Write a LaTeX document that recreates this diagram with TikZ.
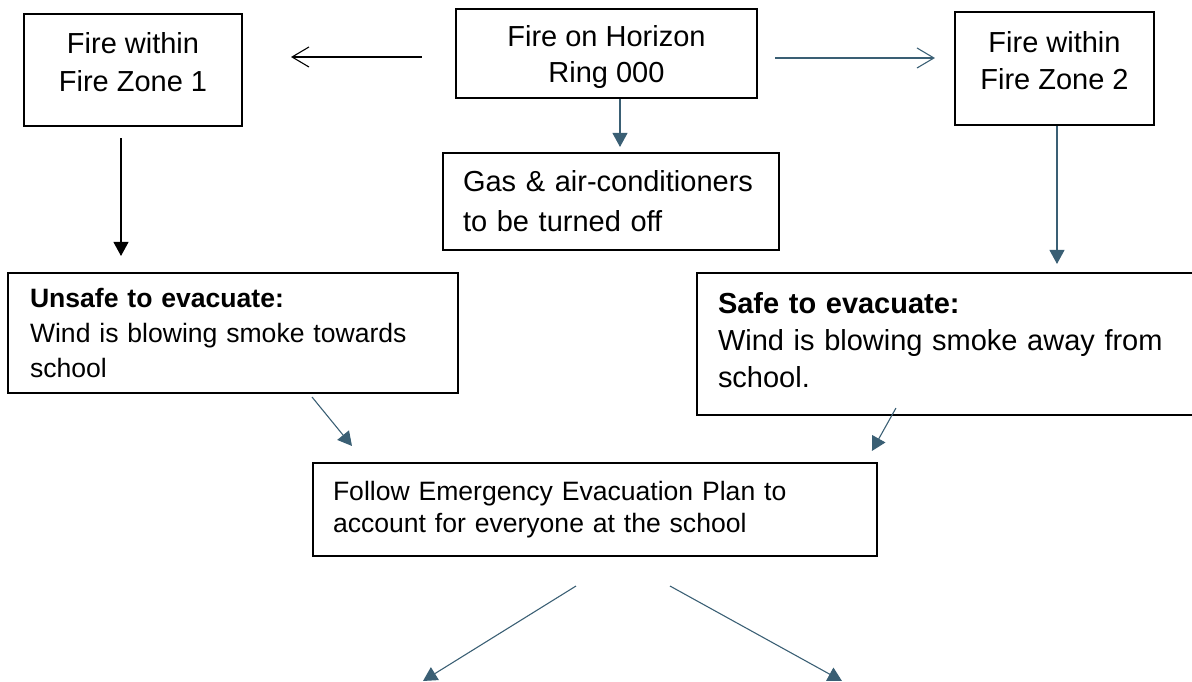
\documentclass[tikz,border=0pt]{standalone}
\usepackage{fontspec}
\setmainfont{Liberation Sans}
\usetikzlibrary{arrows.meta,calc}
\definecolor{slateline}{HTML}{3A5F74}
\newdimen\pxu
\pxu=0.414pt
\newcommand{\padbelow}[1]{\rule[-#1]{0pt}{#1}}
\newcommand{\padabove}[1]{\rule{0pt}{#1}}

\begin{document}
\begin{tikzpicture}[x=0.414pt,y=-0.414pt]
\tikzset{
  flowbox/.style={draw,line width=0.85pt,inner ysep=0pt},
  bigtext/.style={font=\fontsize{12}{#1}\selectfont},
  smalltext/.style={font=\fontsize{11}{#1}\selectfont},
  darkarrow/.style={-{Triangle[length=5.8pt,width=6.2pt]},line width=0.45pt,black},
  slatearrow/.style={-{Triangle[length=5.8pt,width=6.2pt]},line width=0.45pt,slateline},
  openarrow/.style={-{Straight Barb[length=7pt,width=8.3pt]},line width=0.45pt}
}
\useasboundingbox (0,0) rectangle (1192,682);
\clip (0,0) rectangle (1192,682);
% boxes
\node[flowbox,bigtext=16.1pt,align=center,minimum width=218*\pxu,minimum height=112*\pxu] (n_zone_one) at (133,70) {Fire within\\Fire Zone 1\padbelow{6.6pt}};
\node[flowbox,bigtext=14.9pt,align=center,minimum width=301*\pxu,minimum height=89*\pxu] (n_horizon) at (606.5,53.5) {\padabove{12pt}Fire on Horizon\\Ring 000};
\node[flowbox,bigtext=15.3pt,align=center,minimum width=199*\pxu,minimum height=113*\pxu] (n_zone_two) at (1054.5,68.5) {Fire within\\Fire Zone 2\padbelow{7pt}};
\node[flowbox,bigtext=16.6pt,align=left,inner xsep=20*\pxu,text width=296*\pxu,minimum height=97*\pxu] (n_gas_off) at (611,201.5) {Gas \& air-conditioners\\to be turned off};
\node[flowbox,smalltext=14.3pt,align=left,inner xsep=22*\pxu,text width=406*\pxu,minimum height=120*\pxu] (n_unsafe) at (233,333) {\textbf{Unsafe to evacuate:}\\Wind is blowing smoke towards\\school};
\node[flowbox,bigtext=15.5pt,align=left,inner xsep=21*\pxu,text width=471*\pxu,minimum height=142*\pxu] (n_safe) at (953.5,344) {\textbf{Safe to evacuate:}\\Wind is blowing smoke away from\\school.\padbelow{3.3pt}};
\node[flowbox,smalltext=13.5pt,align=left,inner xsep=20*\pxu,text width=524*\pxu,minimum height=93*\pxu] (n_follow_plan) at (595,509.5) {Follow Emergency Evacuation Plan to\\account for everyone at the school};
\coordinate (c_exit_left) at (423,681);
\coordinate (c_exit_right) at (842,681);
% connectors
\draw[openarrow,black] ($(n_horizon.west)+(-33,3.5)$) -- ($(n_zone_one.east)+(48,-13)$);
\draw[openarrow,slateline] ($(n_horizon.east)+(17,4.5)$) -- ($(n_zone_two.west)+(-19,-10.5)$);
\draw[slatearrow,shorten >=5*\pxu] ([xshift=13.5*\pxu]n_horizon.south) -- ([xshift=13.5*\pxu]n_horizon.south |- n_gas_off.north);
\draw[darkarrow,shorten <=11*\pxu,shorten >=16*\pxu] ([xshift=-12*\pxu]n_zone_one.south) -- ([xshift=-12*\pxu]n_zone_one.south |- n_unsafe.north);
\draw[slatearrow,shorten >=8*\pxu] ([xshift=2.5*\pxu]n_zone_two.south) -- ([xshift=2.5*\pxu]n_zone_two.south |- n_safe.north);
\draw[slatearrow] ($(n_unsafe.south)+(79,3)$) -- ($(n_follow_plan.north west)+(40,-16)$);
\draw[slatearrow] ($(n_safe.south west)+(200,-8)$) -- ($(n_follow_plan.north west)+(560,-11)$);
\draw[slatearrow] ($(n_follow_plan.south)+(-19,29)$) -- (c_exit_left);
\draw[slatearrow] ($(n_follow_plan.south)+(75,29)$) -- (c_exit_right);
\end{tikzpicture}
\end{document}
